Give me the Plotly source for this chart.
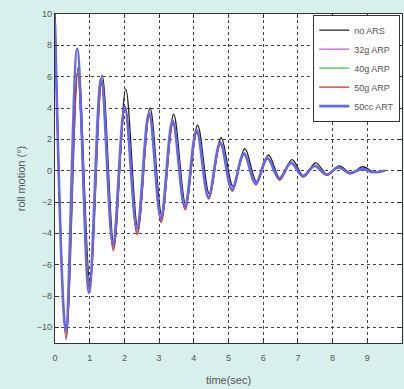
import plotly.graph_objects as go

# extremum times (s) and roll values (deg)
t_black = [0, 0.33, 0.67, 1.01, 1.36, 1.70, 2.04, 2.39, 2.74, 3.08, 3.42, 3.77, 4.11, 4.45, 4.79, 5.13, 5.47, 5.81, 6.15, 6.49, 6.83, 7.17, 7.51, 7.85, 8.19, 8.53, 8.87, 9.21, 9.50]
v_black = [10.0, -10.4, 6.6, -7.2, 6.1, -4.8, 5.2, -3.7, 4.0, -2.9, 3.6, -2.2, 2.9, -1.5, 2.1, -1.0, 1.4, -0.7, 1.0, -0.5, 0.7, -0.35, 0.5, -0.25, 0.3, -0.15, 0.25, -0.1, 0.0]

t_32g = [0, 0.32, 0.65, 0.99, 1.34, 1.68, 2.02, 2.37, 2.72, 3.06, 3.40, 3.75, 4.09, 4.43, 4.77, 5.11, 5.45, 5.79, 6.13, 6.47, 6.81, 7.15, 7.49, 7.83, 8.17, 8.51, 8.85, 9.19, 9.50]
v_32g = [9.6, -10.8, 6.2, -7.6, 5.6, -5.0, 4.1, -4.0, 3.6, -3.2, 3.1, -2.4, 2.5, -1.8, 1.8, -1.3, 1.1, -0.9, 0.8, -0.6, 0.55, -0.4, 0.35, -0.3, 0.2, -0.2, 0.15, -0.1, 0.0]

t_40g = [0, 0.32, 0.65, 0.99, 1.34, 1.68, 2.02, 2.37, 2.72, 3.06, 3.40, 3.75, 4.09, 4.43, 4.77, 5.11, 5.45, 5.79, 6.13, 6.47, 6.81, 7.15, 7.49, 7.83, 8.17, 8.51, 8.85, 9.19, 9.50]
v_40g = [9.5, -10.6, 6.3, -7.4, 5.7, -4.9, 4.0, -3.9, 3.5, -3.1, 3.0, -2.3, 2.4, -1.7, 1.7, -1.2, 1.0, -0.8, 0.75, -0.55, 0.5, -0.35, 0.3, -0.25, 0.2, -0.15, 0.1, -0.1, 0.0]

t_50g = [0, 0.32, 0.65, 0.99, 1.34, 1.68, 2.02, 2.37, 2.72, 3.06, 3.40, 3.75, 4.09, 4.43, 4.77, 5.11, 5.45, 5.79, 6.13, 6.47, 6.81, 7.15, 7.49, 7.83, 8.17, 8.51, 8.85, 9.19, 9.50]
v_50g = [9.5, -10.7, 6.2, -7.5, 5.5, -5.1, 4.0, -4.1, 3.5, -3.3, 3.0, -2.5, 2.5, -1.8, 1.7, -1.3, 1.1, -0.9, 0.8, -0.6, 0.5, -0.4, 0.3, -0.3, 0.2, -0.2, 0.1, -0.1, 0.0]

t_50cc = [0, 0.31, 0.64, 0.98, 1.33, 1.67, 2.01, 2.36, 2.71, 3.05, 3.39, 3.74, 4.08, 4.42, 4.76, 5.10, 5.44, 5.78, 6.12, 6.46, 6.80, 7.14, 7.48, 7.82, 8.16, 8.50, 8.84, 9.18, 9.50]
v_50cc = [9.4, -10.2, 7.8, -7.8, 5.9, -4.7, 4.1, -3.7, 3.7, -3.0, 3.2, -2.3, 2.6, -1.7, 1.8, -1.2, 1.1, -0.8, 0.8, -0.5, 0.5, -0.35, 0.3, -0.25, 0.2, -0.15, 0.1, -0.1, 0.0]

names = ["no ARS", "32g ARP", "40g ARP", "50g ARP", "50cc ART"]
colors = ["#222222", "#cc55dd", "#33cc44", "#dd2222", "#6666ee"]
widths = [1.3, 1.3, 1.3, 1.3, 2.6]
series = [(t_black, v_black), (t_32g, v_32g), (t_40g, v_40g), (t_50g, v_50g), (t_50cc, v_50cc)]

x_ticks = list(range(0, 11))
y_ticks = list(range(-10, 11, 2))

fig = go.Figure()
for (t, v), n, c, w in zip(series, names, colors, widths):
    fig.add_trace(go.Scatter(x=t, y=v, name=n, mode="lines",
                             line=dict(color=c, width=w, shape="spline", smoothing=1.0)))

axis_common = dict(showline=True, linecolor="#333333", linewidth=1.2, mirror="ticks",
                   ticks="inside", ticklen=4, tickcolor="#333333", automargin=False,
                   showgrid=True, gridcolor="#444444", griddash="dot", gridwidth=1,
                   zeroline=False, tickfont=dict(size=9, color="#555555", family="Arial"))

fig.update_xaxes(range=[0, 10], tickvals=x_ticks, ticklabelstandoff=6,
                 title=dict(text="time(sec)", font=dict(size=11, color="#555555"), standoff=14), **axis_common)
fig.update_yaxes(range=[-11, 10], tickvals=y_ticks,
                 title=dict(text="roll motion (°)", font=dict(size=11, color="#555555"), standoff=8), **axis_common)

fig.update_layout(
    width=404, height=389,
    margin=dict(l=55, r=2, t=14, b=46),
    paper_bgcolor="#d8f0eb", plot_bgcolor="white",
    font=dict(family="Arial"),
    legend=dict(x=0.995, y=0.998, xanchor="right", yanchor="top",
                bgcolor="white", bordercolor="#333333", borderwidth=1,
                font=dict(size=9, color="#555555"), itemwidth=30),
    showlegend=True,
)

fig.write_html("out.html", config={"displayModeBar": False},
               post_script="document.body.style.margin='0px';document.body.style.background='#d8f0eb';")
